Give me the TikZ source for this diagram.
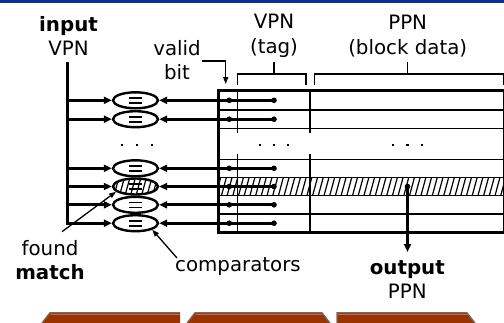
\documentclass[tikz,border=0pt]{standalone}
\usepackage{fontspec}
\setmainfont{DejaVu Sans}
\usetikzlibrary{arrows.meta,shapes.geometric}
\definecolor{barblue}{RGB}{8,48,150}
\definecolor{tabbrown}{RGB}{153,51,0}
\definecolor{tabhi}{RGB}{200,110,80}
\definecolor{tabedge}{RGB}{110,110,110}
\tikzset{
  lbl/.style={align=center,inner sep=0pt,font=\fontsize{19.8}{24.5}\selectfont},
  thk/.style={line width=2.8pt},
  thn/.style={line width=1.3pt},
  arr/.style={-{Triangle[length=8pt,width=7pt]}},
  sarr/.style={-{Triangle[length=7pt,width=5pt]}},
  dotnode/.style={circle,fill=black,inner sep=0pt,minimum size=5.6pt},
  smalldot/.style={rectangle,fill=black,inner sep=0pt,minimum size=2.8pt},
  cmpbox/.style={ellipse,draw,line width=2.4pt,minimum width=45pt,minimum height=16pt,inner sep=0pt,
    path picture={
      \draw[line width=1.6pt] ([xshift=-6.5pt,yshift=2.5pt]path picture bounding box.center) -- ++(13pt,0pt);
      \draw[line width=1.6pt] ([xshift=-6.5pt,yshift=-2.5pt]path picture bounding box.center) -- ++(13pt,0pt);
    }},
  hatchbox/.style={ellipse,draw,line width=2.4pt,minimum width=45pt,minimum height=16pt,inner sep=0pt,
    path picture={
      \foreach \k in {-30,-24.5,...,30}
        \draw[line width=1.2pt] ([xshift=\k pt-2.5pt,yshift=-9pt]path picture bounding box.center) -- ++(5pt,18pt);
      \draw[line width=1.6pt] ([xshift=-6.5pt,yshift=2.5pt]path picture bounding box.center) -- ++(13pt,0pt);
      \draw[line width=1.6pt] ([xshift=-6.5pt,yshift=-2.5pt]path picture bounding box.center) -- ++(13pt,0pt);
    }},
  tab/.style={fill=tabbrown,draw=none}
}
\begin{document}
\begin{tikzpicture}[x=1pt,y=-1pt]
\useasboundingbox (0,0) rectangle (504,322);
% top bar
\fill[barblue] (0,0) rectangle (504,3.3);

% ---- table hatched row
\begin{scope}
  \clip (218.3,177.3) rectangle (503.5,195.7);
  \foreach \x in {210,215.7,...,510}
    \draw[line width=1.2pt] (\x,195.7) -- (\x+5,177.3);
\end{scope}

% table grid
\foreach \y in {110,128.3,159.3,177.3,195.7,214}
  \draw[thn] (218.3,\y) -- (503.5,\y);
\foreach \x in {237.3,310}{
  \draw[line width=1.5pt] (\x,90.7) -- (\x,133);
  \draw[line width=1.5pt] (\x,153.5) -- (\x,232.3);
}
\draw[thk] (505,90.7) -- (218.3,90.7) -- (218.3,232.3) -- (505,232.3);
\draw[thn] (503.3,90.7) -- (503.3,232.3);

% brackets
\draw[thn] (237.3,85) -- (237.3,74) -- (306,74) -- (306,85);
\draw[thn] (274,74) -- (274,62);
\draw[thn] (314.3,85) -- (314.3,74) -- (503.3,74) -- (503.3,85);
\draw[thn] (407.7,74) -- (407.7,62);

% labels
\node[lbl] (inp) at (68.5,36) {\textbf{input}\\VPN};
\node[lbl] (vtag) at (274,36) {VPN\\(tag)};
\node[lbl] (ppn) at (407.7,36) {PPN\\(block data)};
\node[lbl] (valid) at (177,60) {valid\\bit};
\node[lbl] (found) at (50,260) {found\\\textbf{match}};
\node[lbl] (comp) at (238,267) {comparators};
\node[lbl] (outp) at (407.3,279.5) {\textbf{output}\\PPN};

% input bus
\coordinate (bustop) at (67.7,62);
\coordinate (busbot) at (67.7,224.5);
\draw[thk] (bustop) -- (busbot);

% comparators and rows
\foreach \i/\y/\st in {1/100.3/cmpbox,2/119.2/cmpbox,3/168.3/cmpbox,4/186.5/hatchbox,5/204.8/cmpbox,6/223.2/cmpbox}{
  \node[\st] (c\i) at (135.5,\y) {};
  \node[dotnode] (v\i) at (229.3,\y) {};
  \node[dotnode] (t\i) at (274,\y) {};
  \draw[thk,arr] (t\i.center) -- (c\i.east);
  \draw[thk,arr] ([xshift=-1.4pt]bustop |- c\i) -- (c\i.west);
}

% ellipsis dots
\foreach \x [count=\n] in {122,137,152}
  \node[smalldot] (la\n) at (\x,145) {};
\foreach \x [count=\n] in {260,274,288}
  \node[smalldot] (ta\n) at (\x,145) {};
\foreach \x [count=\n] in {393,407.5,422}
  \node[smalldot] (pa\n) at (\x,145) {};

% valid bit arrow
\coordinate (vstart) at (202,61);
\coordinate (vend) at (225.7,84);
\draw[thn,sarr] (vstart) -| (vend);

% found match arrow
\coordinate (fm) at (62,231.7);
\draw[thn,sarr] (fm) -- (c4.195);
% comparators arrow
\coordinate (cm) at (177,258);
\draw[thn,sarr] (cm) -- (c6.south east);

% output arrow
\node[dotnode] (od) at (407.5,186.5) {};
\coordinate (oend) at (407.5,252);
\draw[thk,arr] (od.center) -- (oend);

% bottom tabs
\fill[tab] (42,323) -- (50,312.7) -- (180,312.7) -- (180,323) -- cycle;
\fill[tab] (187,323) -- (195,312.7) -- (322,312.7) -- (330,323) -- cycle;
\fill[tab] (337,323) -- (337,312.7) -- (467,312.7) -- (475,323) -- cycle;
\draw[tabhi,line width=1.2pt] (50.5,314.6) -- (179.5,314.6) (195.5,314.6) -- (321.5,314.6) (337.5,314.6) -- (467.5,314.6);
\draw[tabedge,line width=1.3pt] (42,323) -- (50,312.7) -- (180,312.7)
  (187,323) -- (195,312.7) -- (322,312.7) -- (330,323)
  (337,323) -- (337,312.7) -- (467,312.7) -- (475,323);
\end{tikzpicture}
\end{document}
